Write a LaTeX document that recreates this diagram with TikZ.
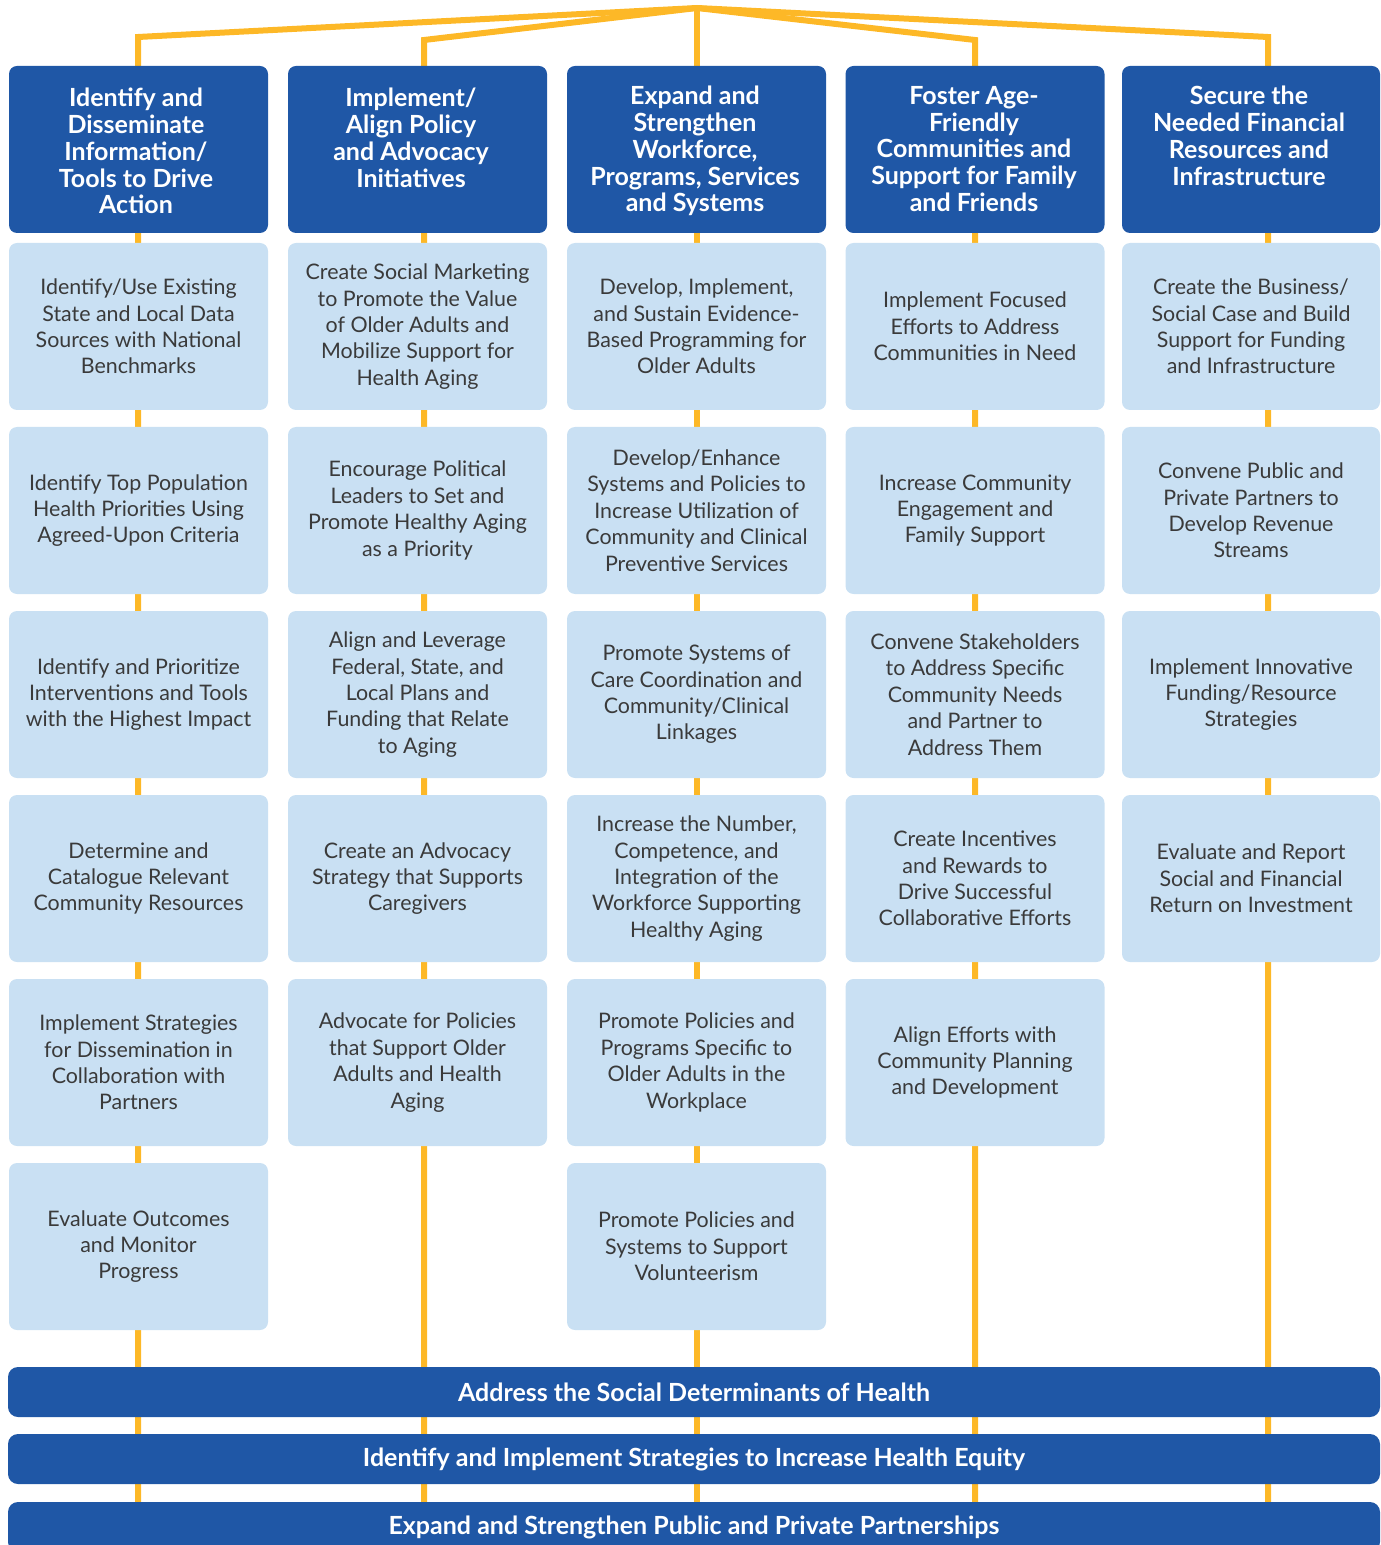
\documentclass[tikz,border=0pt]{standalone}
\usepackage{fontspec}
\setmainfont{Lato}

\definecolor{planblue}{HTML}{1F57A6}
\definecolor{planlight}{HTML}{C9E0F3}
\definecolor{plangold}{HTML}{FDB827}
\definecolor{plantext}{HTML}{3A3A3A}

\tikzset{
  headbox/.style={rectangle, rounded corners=4pt, fill=planblue, minimum width=129.5pt, minimum height=83.5pt, inner sep=0pt},
  headtext/.style={text=white, font=\fontsize{12.5}{13.35}\selectfont\bfseries, align=center, inner sep=0pt, anchor=north},
  stepbox/.style={rectangle, rounded corners=4pt, fill=planlight, minimum width=129.5pt, minimum height=83.5pt, inner sep=0pt, text=plantext, font=\fontsize{10.7}{13.2}\selectfont, align=center},
  barbox/.style={rectangle, rounded corners=5pt, fill=planblue, minimum width=686pt, minimum height=25pt, inner sep=0pt, text=white, font=\fontsize{12.5}{14}\selectfont\bfseries},
  goldline/.style={draw=plangold, line width=3pt}
}

\begin{document}
\begin{tikzpicture}[x=0.5pt, y=-0.5pt]
        \useasboundingbox (0,0) rectangle (1380,1545);
        \clip (0,0) rectangle (1380,1545);

        % gold frame behind the boxes
        \coordinate (top) at (697,8);
        \coordinate (c1) at (138,37);
        \coordinate (c2) at (424,40);
        \coordinate (c4) at (975,40);
        \coordinate (c5) at (1268,37);
        \coordinate (e1) at (138,1550);
        \coordinate (e2) at (424,1550);
        \coordinate (e3) at (697,1550);
        \coordinate (e4) at (975,1550);
        \coordinate (e5) at (1268,1550);

        \draw[goldline] (top) -- (c1) -- (e1);
        \draw[goldline] (top) -- (c2) -- (e2);
        \draw[goldline] (top) -- (e3);
        \draw[goldline] (top) -- (c4) -- (e4);
        \draw[goldline] (top) -- (c5) -- (e5);

        % headers
        \node (h1) at (138.5,149.5) [headbox] {};
        \node (h2) at (417.5,149.5) [headbox] {};
        \node (h3) at (696.5,149.5) [headbox] {};
        \node (h4) at (975,149.5) [headbox] {};
        \node (h5) at (1251,149.5) [headbox, minimum width=129pt] {};

        \node (ht1) at (136,88) [headtext] {Identify and\\Disseminate\\Information/\\Tools to Drive\\Action};
        \node (ht2) at (411,88) [headtext] {Implement/\\Align Policy\\and Advocacy\\Initiatives};
        \node (ht3) at (695,86) [headtext] {Expand and\\Strengthen\\Workforce,\\Programs, Services\\and Systems};
        \node (ht4) at (974,86) [headtext] {Foster Age-\\Friendly\\Communities and\\Support for Family\\and Friends};
        \node (ht5) at (1249,86) [headtext] {Secure the\\Needed Financial\\Resources and\\Infrastructure};

        % column 1
        \node (s11) at (138.5,326.5) [stepbox] {Identify/Use Existing\\State and Local Data\\Sources with National\\Benchmarks};
        \node (s12) at (138.5,510.5) [stepbox] {Identify Top Population\\Health Priorities Using\\Agreed-Upon Criteria};
        \node (s13) at (138.5,694.5) [stepbox] {Identify and Prioritize\\Interventions and Tools\\with the Highest Impact};
        \node (s14) at (138.5,878.5) [stepbox] {Determine and\\Catalogue Relevant\\Community Resources};
        \node (s15) at (138.5,1062.5) [stepbox] {Implement Strategies\\for Dissemination in\\Collaboration with\\Partners};
        \node (s16) at (138.5,1246.5) [stepbox] {Evaluate Outcomes\\and Monitor\\Progress};

        % column 2
        \node (s21) at (417.5,326.5) [stepbox] {Create Social Marketing\\to Promote the Value\\of Older Adults and\\Mobilize Support for\\Health Aging};
        \node (s22) at (417.5,510.5) [stepbox] {Encourage Political\\Leaders to Set and\\Promote Healthy Aging\\as a Priority};
        \node (s23) at (417.5,694.5) [stepbox] {Align and Leverage\\Federal, State, and\\Local Plans and\\Funding that Relate\\to Aging};
        \node (s24) at (417.5,878.5) [stepbox] {Create an Advocacy\\Strategy that Supports\\Caregivers};
        \node (s25) at (417.5,1062.5) [stepbox] {Advocate for Policies\\that Support Older\\Adults and Health\\Aging};

        % column 3
        \node (s31) at (696.5,326.5) [stepbox] {Develop, Implement,\\and Sustain Evidence-\\Based Programming for\\Older Adults};
        \node (s32) at (696.5,510.5) [stepbox] {Develop/Enhance\\Systems and Policies to\\Increase Utilization of\\Community and Clinical\\Preventive Services};
        \node (s33) at (696.5,694.5) [stepbox] {Promote Systems of\\Care Coordination and\\Community/Clinical\\Linkages};
        \node (s34) at (696.5,878.5) [stepbox] {Increase the Number,\\Competence, and\\Integration of the\\Workforce Supporting\\Healthy Aging};
        \node (s35) at (696.5,1062.5) [stepbox] {Promote Policies and\\Programs Specific to\\Older Adults in the\\Workplace};
        \node (s36) at (696.5,1246.5) [stepbox] {Promote Policies and\\Systems to Support\\Volunteerism};

        % column 4
        \node (s41) at (975,326.5) [stepbox] {Implement Focused\\Efforts to Address\\Communities in Need};
        \node (s42) at (975,510.5) [stepbox] {Increase Community\\Engagement and\\Family Support};
        \node (s43) at (975,694.5) [stepbox] {Convene Stakeholders\\to Address Specific\\Community Needs\\and Partner to\\Address Them};
        \node (s44) at (975,878.5) [stepbox] {Create Incentives\\and Rewards to\\Drive Successful\\Collaborative Efforts};
        \node (s45) at (975,1062.5) [stepbox] {Align Efforts with\\Community Planning\\and Development};

        % column 5
        \node (s51) at (1251,326.5) [stepbox, minimum width=129pt] {Create the Business/\\Social Case and Build\\Support for Funding\\and Infrastructure};
        \node (s52) at (1251,510.5) [stepbox, minimum width=129pt] {Convene Public and\\Private Partners to\\Develop Revenue\\Streams};
        \node (s53) at (1251,694.5) [stepbox, minimum width=129pt] {Implement Innovative\\Funding/Resource\\Strategies};
        \node (s54) at (1251,878.5) [stepbox, minimum width=129pt] {Evaluate and Report\\Social and Financial\\Return on Investment};

        % cross-cutting bars
        \node (b1) at (694,1392) [barbox] {Address the Social Determinants of Health};
        \node (b2) at (694,1459) [barbox] {Identify and Implement Strategies to Increase Health Equity};
        \node (b3) at (694,1527) [barbox] {Expand and Strengthen Public and Private Partnerships};
    \end{tikzpicture}
\end{document}
